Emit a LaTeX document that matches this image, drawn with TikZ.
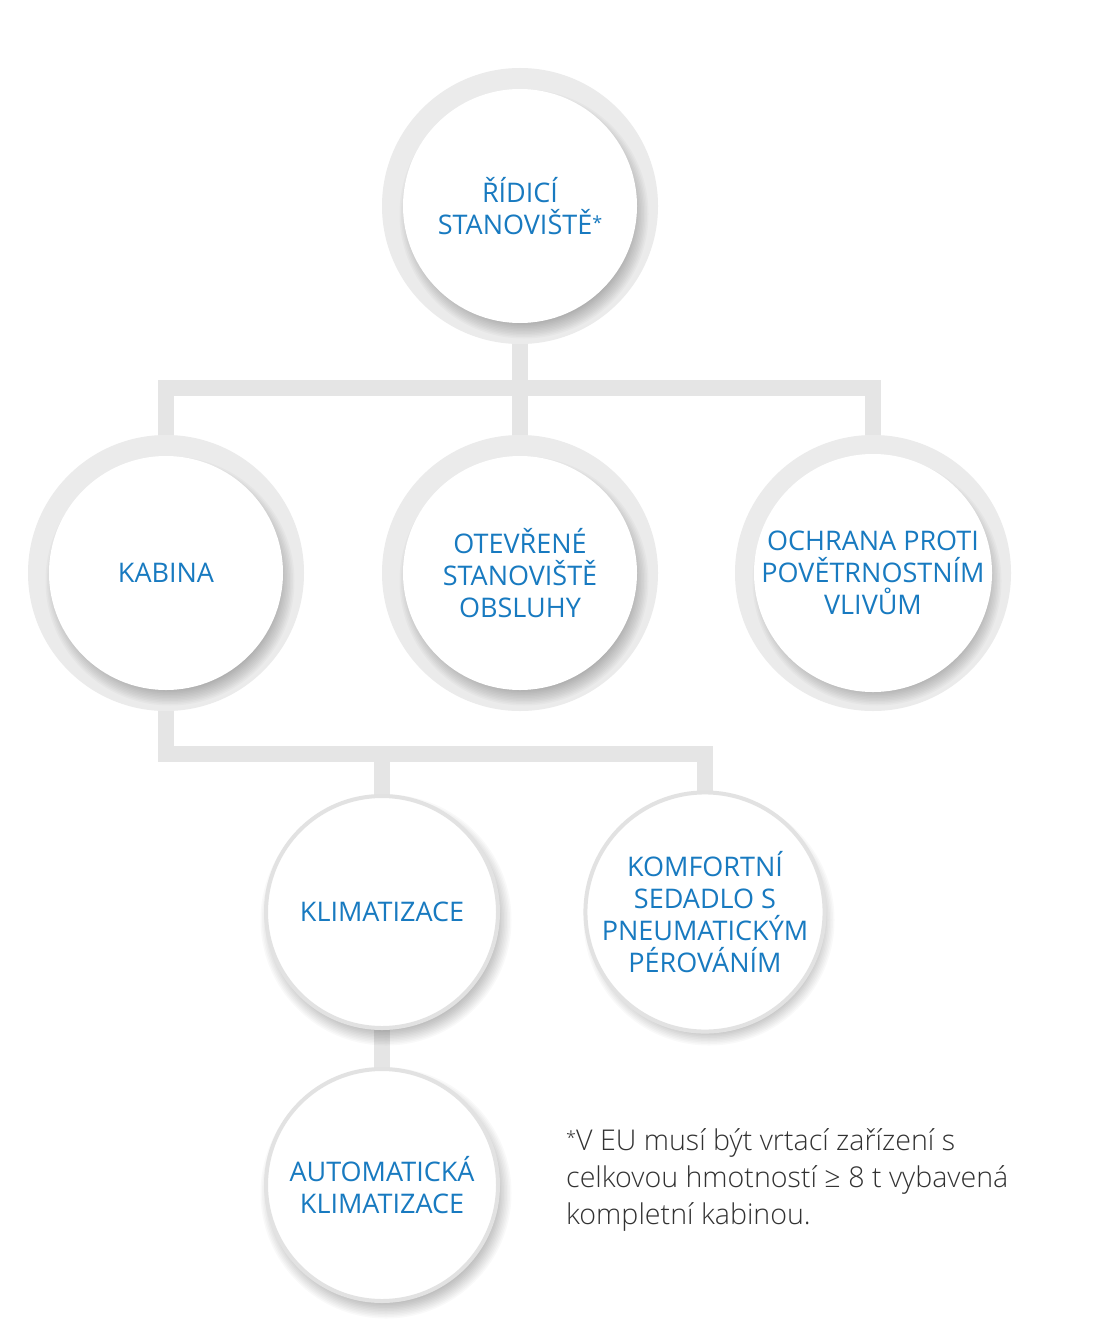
\documentclass[tikz,border=0pt]{standalone}
\usepackage{fontspec}
\setmainfont{Open Sans}
\newfontfamily\notefont{Open Sans Light}
\usetikzlibrary{backgrounds}
\definecolor{txtblue}{RGB}{24,122,192}
\definecolor{ringgray}{RGB}{235,235,235}
\definecolor{conngray}{RGB}{229,229,229}
\definecolor{bordergray}{RGB}{226,226,226}
\definecolor{notegray}{RGB}{50,50,50}
\tikzset{
  ringbg/.style={circle, fill=ringgray, minimum size=276pt, inner sep=0pt},
  innerw/.style={circle, fill=white, minimum size=234pt, inner sep=0pt, align=center,
     text=txtblue, font=\fontsize{27}{32}\selectfont},
  leafw/.style={circle, fill=white, draw=bordergray, line width=4pt, minimum size=232pt, inner sep=0pt, align=center,
     text=txtblue, font=\fontsize{27}{32}\selectfont},
  conn/.style={draw=conngray, line width=16pt, line join=miter, line cap=butt},
  notetext/.style={align=left, anchor=north west, text=notegray, inner sep=0pt,
     font=\notefont\fontsize{28.6}{37}\selectfont}
}
\newcommand\smallast{\raisebox{0.35ex}{\fontsize{18}{18}\selectfont *}}
\newcommand\softshadow[3]{% x, y, r
  \foreach \k in {1,...,12}{
    \fill[black, opacity=0.022] (#1+4,#2+8) circle ({#3+9pt-1.5pt*\k});
  }
}
\newcommand\ringnode[4]{% name, x, y, text
  \node[ringbg] (#1r) at (#2,#3) {};
  \softshadow{#2}{#3}{117pt}
  \node[innerw] (#1) at (#2,#3) {#4};
}
\newcommand\leafnode[4]{% name, x, y, text
  \softshadow{#2}{#3}{118pt}
  \node[leafw] (#1) at (#2,#3) {#4};
}
\begin{document}
\begin{tikzpicture}[x=1pt, y=-1pt]
\useasboundingbox (0,0) rectangle (1100,1327);

\ringnode{top}{520}{206}{ŘÍDICÍ\\STANOVIŠTĚ\smallast}
\ringnode{kab}{166}{573}{KABINA}
\ringnode{otev}{520}{573}{OTEVŘENÉ\\STANOVIŠTĚ\\OBSLUHY}
\ringnode{ochr}{873}{573}{OCHRANA PROTI\\POVĚTRNOSTNÍM\\VLIVŮM}
\leafnode{klim}{382}{912}{KLIMATIZACE}
\leafnode{komf}{705}{912}{KOMFORTNÍ\\SEDADLO S\\PNEUMATICKÝM\\PÉROVÁNÍM}
\leafnode{auto}{382}{1185}{AUTOMATICKÁ\\KLIMATIZACE}

\coordinate (bus1) at (520,388);
\coordinate (bus2) at (382,754);

\begin{pgfonlayer}{background}
  \fill[white] (0,0) rectangle (1100,1327);
  \draw[conn] (top.center) -- (otev.center);
  \draw[conn] (kab.center) -- (kab.center |- bus1) -- (ochr.center |- bus1) -- (ochr.center);
  \draw[conn] (kab.center) -- (kab.center |- bus2) -- (komf.center |- bus2) -- (komf.center);
  \draw[conn] (klim.center |- bus2) -- (auto.center);
\end{pgfonlayer}

\node[notetext] (note) at (566,1128) {\smallast V EU musí být vrtací zařízení s\\celkovou hmotností ≥ 8 t vybavená\\kompletní kabinou.};
\end{tikzpicture}
\end{document}
